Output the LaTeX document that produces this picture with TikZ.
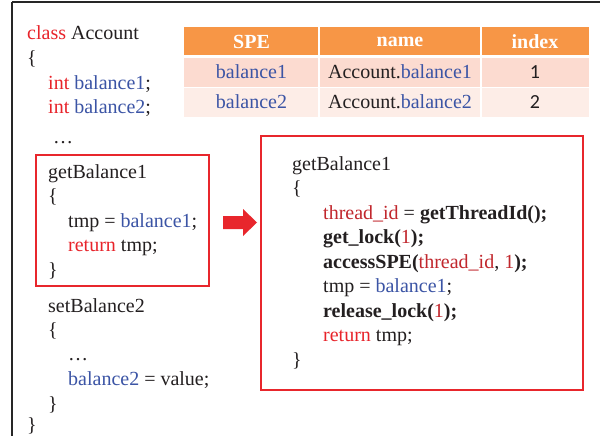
\documentclass[tikz,border=0pt]{standalone}
\usepackage{fontspec}
\setmainfont{Liberation Serif}
\newfontfamily\digitfont{Carlito}
\definecolor{codeblue}{HTML}{3B54A5}
\definecolor{kwred}{HTML}{E8232A}
\definecolor{dkred}{HTML}{C1272D}
\definecolor{boxred}{HTML}{E8262C}
\definecolor{hdrorange}{HTML}{F79646}
\definecolor{rowa}{HTML}{FCDBD0}
\definecolor{rowb}{HTML}{FDEDE7}
\definecolor{txt}{HTML}{231F20}
\begin{document}
\begin{tikzpicture}[x=1pt,y=-1pt,
  code/.style={anchor=base west,inner sep=0pt,font=\fontsize{20}{24}\selectfont,text=txt},
  cell/.style={anchor=center,inner sep=0pt,font=\fontsize{20}{24}\selectfont,text=txt},
  hdr/.style={anchor=center,inner sep=0pt,font=\fontsize{20}{24}\selectfont\bfseries,text=white},
  redbox/.style={draw=boxred,line width=1.5pt},
  kw/.style={}]
\useasboundingbox (0,0) rectangle (600,436);
\fill[white] (0,0) rectangle (600,436);
% outer frame
\draw[line width=1.3pt,black!85] (12,2) -- (612,2);
\draw[line width=1.3pt,black!85] (12,2) -- (12,446);
% table
\fill[hdrorange] (184,27) rectangle (589,55);
\fill[rowa] (184,58) rectangle (589,87);
\fill[rowb] (184,87) rectangle (589,117);
\draw[white,line width=1.5pt] (184,56.5) -- (589,56.5);
\draw[white,line width=1.2pt] (184,87.5) -- (589,87.5);
\draw[white,line width=1.5pt] (319,27) -- (319,117);
\draw[white,line width=1.5pt] (481,27) -- (481,117);
\node[hdr] (h1) at (251.5,42) {SPE};
\node[hdr] (h2) at (400,42) {name};
\node[hdr] (h3) at (535,42) {index};
\node[cell,anchor=base] (r1a) at (251.5,79) {\textcolor{codeblue}{balance1}};
\node[cell,anchor=base] (r1b) at (400,79) {Account.\textcolor{codeblue}{balance1}};
\node[cell,anchor=base] (r1c) at (535,79) {\digitfont 1};
\node[cell,anchor=base] (r2a) at (251.5,109) {\textcolor{codeblue}{balance2}};
\node[cell,anchor=base] (r2b) at (400,109) {Account.\textcolor{codeblue}{balance2}};
\node[cell,anchor=base] (r2c) at (535,109) {\digitfont 2};
% left code
\node[code] (l1) at (27,40) {\textcolor{kwred}{class} Account};
\node[code] (l2) at (27,64.5) {\{};
\node[code] (l3) at (48,89) {\textcolor{kwred}{int} \textcolor{codeblue}{balance1};};
\node[code] (l4) at (48,113.5) {\textcolor{kwred}{int} \textcolor{codeblue}{balance2};};
\node[code] (l5) at (53,143) {\dots};
\draw[redbox] (36,155) rectangle (209,286);
\node[code] (g1) at (48,178) {getBalance1};
\node[code] (g2) at (48,202.5) {\{};
\node[code] (g3) at (68,227) {tmp = \textcolor{codeblue}{balance1};};
\node[code] (g4) at (68,251.5) {\textcolor{kwred}{return} tmp;};
\node[code] (g5) at (48,276) {\}};
\node[code] (s1) at (48,312) {setBalance2};
\node[code] (s2) at (48,336.5) {\{};
\node[code] (s3) at (68,360) {\dots};
\node[code] (s4) at (68,385.5) {\textcolor{codeblue}{balance2} = value;};
\node[code] (s5) at (48,410) {\}};
\node[code] (l6) at (27,431) {\}};
% arrow
\fill[boxred] (223,216) -- (243,216) -- (243,209) -- (257,222.5) -- (243,236) -- (243,229) -- (223,229) -- cycle;
% right box
\draw[redbox] (261,136) rectangle (583,390);
\node[code] (t1) at (292,170) {getBalance1};
\node[code] (t2) at (292,194.5) {\{};
\node[code] (t3) at (323,219) {\textcolor{dkred}{thread\_id} = \textbf{getThreadId();}};
\node[code] (t4) at (323,243.5) {\textbf{get\_lock(}\textcolor{dkred}{1}\textbf{);}};
\node[code] (t5) at (323,268) {\textbf{accessSPE(}\textcolor{dkred}{thread\_id}, \textcolor{dkred}{1}\textbf{);}};
\node[code] (t6) at (323,292.5) {tmp = \textcolor{codeblue}{balance1};};
\node[code] (t7) at (323,317) {\textbf{release\_lock(}\textcolor{dkred}{1}\textbf{);}};
\node[code] (t8) at (323,341.5) {\textcolor{kwred}{return} tmp;};
\node[code] (t9) at (292,366) {\}};
\end{tikzpicture}
\end{document}
